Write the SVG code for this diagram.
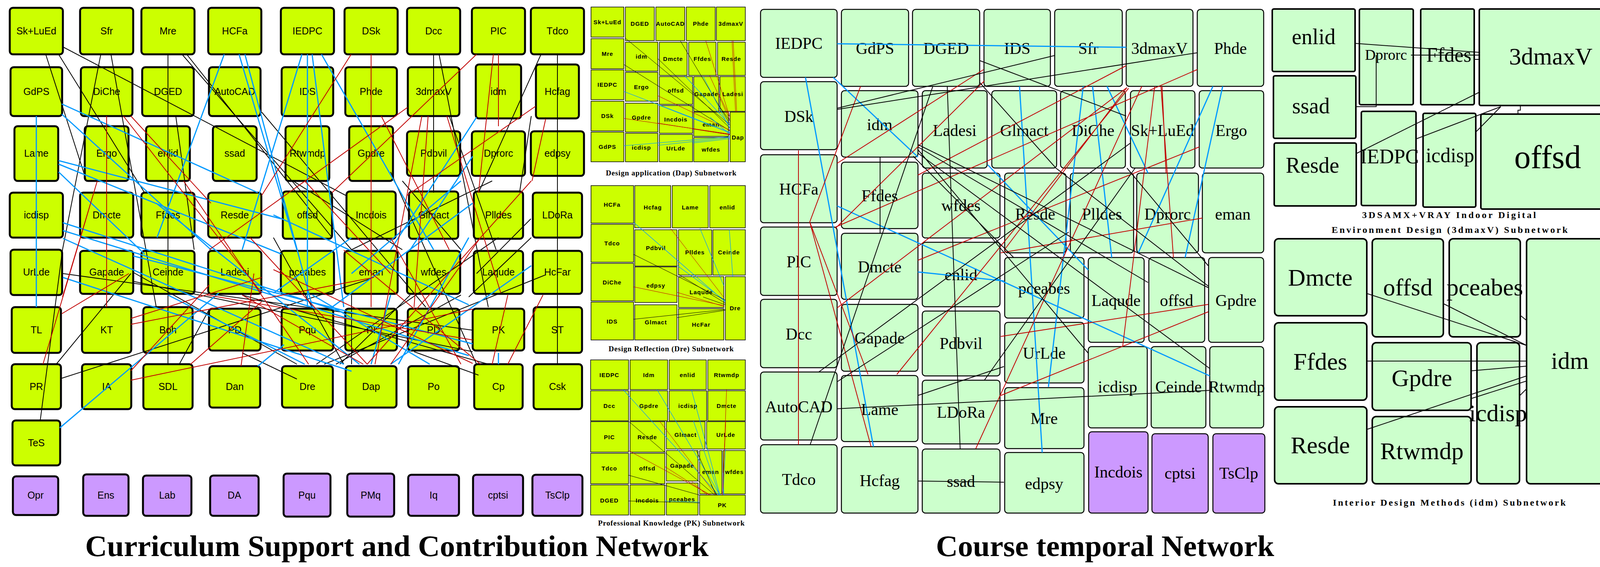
<svg xmlns="http://www.w3.org/2000/svg" width="4152" height="1451" viewBox="0 0 4152 1451">
<style>
.ln rect{fill:#ccff00;stroke:#000;stroke-width:5}
.lp rect{fill:#cc99ff;stroke:#000;stroke-width:5}
.ln text,.lp text{font-family:"Liberation Sans",Arial,sans-serif;font-size:25px;text-anchor:middle;fill:#000}
.sn rect{fill:#ccff00;stroke:#000;stroke-width:1.5}
.sn text{font-family:"Liberation Sans",Arial,sans-serif;font-weight:bold;font-size:15px;letter-spacing:1px;text-anchor:middle}
.tn rect{fill:#ccffcc;stroke:#000;stroke-width:2.5}
.tp rect{fill:#cc99ff;stroke:#000;stroke-width:2.5}
.tn text,.tp text{font-family:"Liberation Serif","Times New Roman",serif;font-size:42px;text-anchor:middle}
.rn rect{fill:#ccffcc;stroke:#000;stroke-width:4}
.rn text{font-family:"Liberation Serif","Times New Roman",serif;text-anchor:middle}
.ttl{font-family:"Liberation Serif","Times New Roman",serif;font-weight:bold;fill:#000}
.k{stroke:#000;stroke-width:2;fill:none}
.b{stroke:#0099ff;stroke-width:3;fill:none}
.r{stroke:#c00000;stroke-width:2;fill:none}
.kt{stroke:#000;stroke-width:1;fill:none}
.bt{stroke:#0099ff;stroke-width:1.2;fill:none}
.rt{stroke:#c00000;stroke-width:1;fill:none}
</style>
<rect width="4152" height="1451" fill="#fff"/>

<!-- LEFT NETWORK NODES -->
<g class="ln">
<g id="L-SkLuEd"><rect x="25" y="20" width="136" height="119" rx="8"/><text x="93" y="88">Sk+LuEd</text></g>
<g id="L-Sfr"><rect x="205" y="20" width="136" height="119" rx="8"/><text x="273" y="88">Sfr</text></g>
<g id="L-Mre"><rect x="362" y="20" width="136" height="119" rx="8"/><text x="430" y="88">Mre</text></g>
<g id="L-HCFa"><rect x="533" y="20" width="136" height="119" rx="8"/><text x="601" y="88">HCFa</text></g>
<g id="L-IEDPC"><rect x="719" y="20" width="136" height="119" rx="8"/><text x="787" y="88">IEDPC</text></g>
<g id="L-DSk"><rect x="882" y="20" width="136" height="119" rx="8"/><text x="950" y="88">DSk</text></g>
<g id="L-Dcc"><rect x="1042" y="20" width="136" height="119" rx="8"/><text x="1110" y="88">Dcc</text></g>
<g id="L-PIC"><rect x="1208" y="20" width="136" height="119" rx="8"/><text x="1276" y="88">PIC</text></g>
<g id="L-Tdco"><rect x="1359" y="20" width="136" height="119" rx="8"/><text x="1427" y="88">Tdco</text></g>

<g id="L-GdPS"><rect x="27" y="172" width="132" height="125" rx="8"/><text x="93" y="243">GdPS</text></g>
<g id="L-DiChe"><rect x="207" y="172" width="132" height="125" rx="8"/><text x="273" y="243">DiChe</text></g>
<g id="L-DGED"><rect x="364" y="172" width="132" height="125" rx="8"/><text x="430" y="243">DGED</text></g>
<g id="L-AutoCAD"><rect x="535" y="172" width="132" height="125" rx="8"/><text x="601" y="243">AutoCAD</text></g>
<g id="L-IDS"><rect x="721" y="172" width="132" height="125" rx="8"/><text x="787" y="243">IDS</text></g>
<g id="L-Phde"><rect x="884" y="172" width="132" height="125" rx="8"/><text x="950" y="243">Phde</text></g>
<g id="L-3dmaxV"><rect x="1044" y="172" width="132" height="125" rx="8"/><text x="1110" y="243">3dmaxV</text></g>
<g id="L-idm"><rect x="1218" y="165" width="116" height="138" rx="8"/><text x="1276" y="243">idm</text></g>
<g id="L-Hcfag"><rect x="1372" y="165" width="110" height="138" rx="8"/><text x="1427" y="243">Hcfag</text></g>

<g id="L-Lame"><rect x="37" y="323" width="112" height="140" rx="8"/><text x="93" y="401">Lame</text></g>
<g id="L-Ergo"><rect x="217" y="323" width="112" height="140" rx="8"/><text x="273" y="401">Ergo</text></g>
<g id="L-enlid"><rect x="374" y="323" width="112" height="140" rx="8"/><text x="430" y="401">enlid</text></g>
<g id="L-ssad"><rect x="545" y="323" width="112" height="140" rx="8"/><text x="601" y="401">ssad</text></g>
<g id="L-Rtwmdp"><rect x="731" y="323" width="112" height="140" rx="8"/><text x="787" y="401">Rtwmdp</text></g>
<g id="L-Gpdre"><rect x="894" y="323" width="112" height="140" rx="8"/><text x="950" y="401">Gpdre</text></g>
<g id="L-Pdbvil"><rect x="1042" y="336" width="136" height="114" rx="8"/><text x="1110" y="401">Pdbvil</text></g>
<g id="L-Dprorc"><rect x="1208" y="336" width="136" height="114" rx="8"/><text x="1276" y="401">Dprorc</text></g>
<g id="L-edpsy"><rect x="1359" y="336" width="136" height="114" rx="8"/><text x="1427" y="401">edpsy</text></g>

<g id="L-icdisp"><rect x="25" y="493" width="136" height="115" rx="8"/><text x="93" y="559">icdisp</text></g>
<g id="L-Dmcte"><rect x="205" y="493" width="136" height="115" rx="8"/><text x="273" y="559">Dmcte</text></g>
<g id="L-Ffdes"><rect x="362" y="493" width="136" height="115" rx="8"/><text x="430" y="559">Ffdes</text></g>
<g id="L-Resde"><rect x="533" y="493" width="136" height="115" rx="8"/><text x="601" y="559">Resde</text></g>
<g id="L-offsd"><rect x="724" y="490" width="126" height="121" rx="8"/><text x="787" y="559">offsd</text></g>
<g id="L-Incdois"><rect x="887" y="490" width="126" height="121" rx="8"/><text x="950" y="559">Incdois</text></g>
<g id="L-Glmact"><rect x="1047" y="490" width="126" height="121" rx="8"/><text x="1110" y="559">Glmact</text></g>
<g id="L-Plldes"><rect x="1213" y="490" width="126" height="121" rx="8"/><text x="1276" y="559">Plldes</text></g>
<g id="L-LDoRa"><rect x="1364" y="493" width="126" height="115" rx="8"/><text x="1427" y="559">LDoRa</text></g>

<g id="L-UrLde"><rect x="27" y="639" width="132" height="116" rx="8"/><text x="93" y="705">UrLde</text></g>
<g id="L-Gapade"><rect x="205" y="642" width="136" height="110" rx="8"/><text x="273" y="705">Gapade</text></g>
<g id="L-Ceinde"><rect x="362" y="642" width="136" height="110" rx="8"/><text x="430" y="705">Ceinde</text></g>
<g id="L-Ladesi"><rect x="533" y="642" width="136" height="110" rx="8"/><text x="601" y="705">Ladesi</text></g>
<g id="L-pceabes"><rect x="719" y="642" width="136" height="110" rx="8"/><text x="787" y="705">pceabes</text></g>
<g id="L-eman"><rect x="882" y="642" width="136" height="110" rx="8"/><text x="950" y="705">eman</text></g>
<g id="L-wfdes"><rect x="1042" y="642" width="136" height="110" rx="8"/><text x="1110" y="705">wfdes</text></g>
<g id="L-Laqude"><rect x="1213" y="642" width="126" height="110" rx="8"/><text x="1276" y="705">Laqude</text></g>
<g id="L-HcFar"><rect x="1364" y="642" width="126" height="110" rx="8"/><text x="1427" y="705">HcFar</text></g>

<g id="L-TL"><rect x="30" y="786" width="126" height="117" rx="8"/><text x="93" y="853">TL</text></g>
<g id="L-KT"><rect x="210" y="786" width="126" height="117" rx="8"/><text x="273" y="853">KT</text></g>
<g id="L-Boh"><rect x="367" y="786" width="126" height="117" rx="8"/><text x="430" y="853">Boh</text></g>
<g id="L-PD1"><rect x="535" y="790" width="132" height="107" rx="8"/><text x="601" y="853">PD</text></g>
<g id="L-Pqu"><rect x="721" y="790" width="132" height="107" rx="8"/><text x="787" y="853">Pqu</text></g>
<g id="L-PI"><rect x="884" y="790" width="132" height="107" rx="8"/><text x="950" y="853">PI</text></g>
<g id="L-PD2"><rect x="1044" y="790" width="132" height="107" rx="8"/><text x="1110" y="853">PD</text></g>
<g id="L-PK"><rect x="1210" y="790" width="132" height="107" rx="8"/><text x="1276" y="853">PK</text></g>
<g id="L-ST"><rect x="1366" y="786" width="124" height="117" rx="8"/><text x="1427" y="853">ST</text></g>

<g id="L-PR"><rect x="30" y="932" width="126" height="115" rx="8"/><text x="93" y="998">PR</text></g>
<g id="L-IA"><rect x="210" y="932" width="126" height="115" rx="8"/><text x="273" y="998">IA</text></g>
<g id="L-SDL"><rect x="367" y="932" width="126" height="115" rx="8"/><text x="430" y="998">SDL</text></g>
<g id="L-Dan"><rect x="536" y="937" width="130" height="106" rx="8"/><text x="601" y="998">Dan</text></g>
<g id="L-Dre"><rect x="722" y="937" width="130" height="106" rx="8"/><text x="787" y="998">Dre</text></g>
<g id="L-Dap"><rect x="885" y="937" width="130" height="106" rx="8"/><text x="950" y="998">Dap</text></g>
<g id="L-Po"><rect x="1045" y="937" width="130" height="106" rx="8"/><text x="1110" y="998">Po</text></g>
<g id="L-Cp"><rect x="1214" y="932" width="124" height="115" rx="8"/><text x="1276" y="998">Cp</text></g>
<g id="L-Csk"><rect x="1366" y="932" width="124" height="115" rx="8"/><text x="1427" y="998">Csk</text></g>

<g id="L-TeS"><rect x="32" y="1076" width="122" height="115" rx="8"/><text x="93" y="1142">TeS</text></g>
</g>
<g class="lp">
<g id="L-Opr"><rect x="33" y="1219" width="116" height="99" rx="8"/><text x="91" y="1276">Opr</text></g>
<g id="L-Ens"><rect x="213" y="1214" width="116" height="106" rx="8"/><text x="271" y="1276">Ens</text></g>
<g id="L-Lab"><rect x="366" y="1217" width="124" height="103" rx="8"/><text x="428" y="1276">Lab</text></g>
<g id="L-DA"><rect x="538" y="1217" width="124" height="103" rx="8"/><text x="600" y="1276">DA</text></g>
<g id="L-Pqu2"><rect x="726" y="1212" width="120" height="110" rx="8"/><text x="786" y="1276">Pqu</text></g>
<g id="L-PMq"><rect x="889" y="1212" width="120" height="110" rx="8"/><text x="949" y="1276">PMq</text></g>
<g id="L-Iq"><rect x="1045" y="1215" width="130" height="105" rx="8"/><text x="1110" y="1276">Iq</text></g>
<g id="L-cptsi"><rect x="1211" y="1215" width="128" height="105" rx="8"/><text x="1275" y="1276">cptsi</text></g>
<g id="L-TsClp"><rect x="1363" y="1215" width="128" height="105" rx="8"/><text x="1427" y="1276">TsClp</text></g>
</g>

<!-- DAP SUBNETWORK -->
<g class="sn">
<g id="A-SkLuEd"><rect x="1513" y="18" width="84" height="77"/><text x="1555" y="62">Sk+LuEd</text></g>
<g id="A-DGED"><rect x="1601" y="18" width="74" height="86"/><text x="1638" y="66">DGED</text></g>
<g id="A-AutoCAD"><rect x="1679" y="18" width="74" height="86"/><text x="1716" y="66">AutoCAD</text></g>
<g id="A-Phde"><rect x="1757" y="18" width="74" height="86"/><text x="1794" y="66">Phde</text></g>
<g id="A-3dmaxV"><rect x="1834" y="18" width="74" height="86"/><text x="1871" y="66">3dmaxV</text></g>
<g id="A-Mre"><rect x="1513" y="99" width="84" height="77"/><text x="1555" y="143">Mre</text></g>
<g id="A-idm"><rect x="1601" y="108" width="83" height="74"/><text x="1642" y="150">idm</text></g>
<g id="A-Dmcte"><rect x="1688" y="108" width="71" height="85"/><text x="1723" y="156">Dmcte</text></g>
<g id="A-Ffdes"><rect x="1763" y="108" width="70" height="85"/><text x="1798" y="156">Ffdes</text></g>
<g id="A-Resde"><rect x="1837" y="108" width="71" height="85"/><text x="1872" y="156">Resde</text></g>
<g id="A-IEDPC"><rect x="1513" y="179" width="84" height="76"/><text x="1555" y="222">IEDPC</text></g>
<g id="A-Ergo"><rect x="1601" y="185" width="83" height="74"/><text x="1642" y="228">Ergo</text></g>
<g id="A-offsd"><rect x="1688" y="196" width="85" height="71"/><text x="1730" y="237">offsd</text></g>
<g id="A-Gapade"><rect x="1776" y="196" width="64" height="89"/><text x="1808" y="246">Gapade</text></g>
<g id="A-Ladesi"><rect x="1843" y="196" width="65" height="89"/><text x="1876" y="246">Ladesi</text></g>
<g id="A-DSk"><rect x="1513" y="259" width="84" height="76"/><text x="1555" y="302">DSk</text></g>
<g id="A-Gpdre"><rect x="1601" y="264" width="83" height="74"/><text x="1642" y="306">Gpdre</text></g>
<g id="A-Incdois"><rect x="1688" y="270" width="85" height="71"/><text x="1730" y="311">Incdois</text></g>
<g id="A-eman"><rect x="1776" y="287" width="89" height="62"/><text x="1820" y="324">eman</text></g>
<g id="A-Dap"><rect x="1869" y="287" width="39" height="127"/><text x="1889" y="357">Dap</text></g>
<g id="A-GdPS"><rect x="1513" y="338" width="84" height="76"/><text x="1555" y="381">GdPS</text></g>
<g id="A-icdisp"><rect x="1601" y="341" width="83" height="73"/><text x="1642" y="383">icdisp</text></g>
<g id="A-UrLde"><rect x="1688" y="344" width="85" height="70"/><text x="1730" y="385">UrLde</text></g>
<g id="A-wfdes"><rect x="1776" y="352" width="89" height="62"/><text x="1820" y="388">wfdes</text></g>
</g>
<text class="ttl" x="1551" y="449" font-size="19" textLength="334" lengthAdjust="spacing">Design application (Dap) Subnetwork</text>

<!-- DRE SUBNETWORK -->
<g class="sn">
<g id="B-HCFa"><rect x="1513" y="475" width="109" height="96"/><text x="1567" y="529">HCFa</text></g>
<g id="B-Hcfag"><rect x="1625" y="475" width="92" height="108"/><text x="1671" y="536">Hcfag</text></g>
<g id="B-Lame"><rect x="1721" y="475" width="92" height="108"/><text x="1767" y="536">Lame</text></g>
<g id="B-enlid"><rect x="1817" y="475" width="91" height="108"/><text x="1862" y="536">enlid</text></g>
<g id="B-Tdco"><rect x="1513" y="574" width="109" height="97"/><text x="1567" y="628">Tdco</text></g>
<g id="B-Pdbvil"><rect x="1625" y="588" width="108" height="93"/><text x="1679" y="640">Pdbvil</text></g>
<g id="B-Plldes"><rect x="1737" y="588" width="85" height="116"/><text x="1779" y="651">Plldes</text></g>
<g id="B-Ceinde"><rect x="1825" y="588" width="83" height="116"/><text x="1866" y="651">Ceinde</text></g>
<g id="B-DiChe"><rect x="1513" y="674" width="109" height="96"/><text x="1567" y="728">DiChe</text></g>
<g id="B-edpsy"><rect x="1625" y="683" width="108" height="91"/><text x="1679" y="736">edpsy</text></g>
<g id="B-Laqude"><rect x="1737" y="708" width="116" height="79"/><text x="1795" y="753">Laqude</text></g>
<g id="B-Dre"><rect x="1857" y="708" width="51" height="162"/><text x="1882" y="794">Dre</text></g>
<g id="B-IDS"><rect x="1513" y="773" width="109" height="97"/><text x="1567" y="828">IDS</text></g>
<g id="B-Glmact"><rect x="1625" y="780" width="108" height="90"/><text x="1679" y="830">Glmact</text></g>
<g id="B-HcFar"><rect x="1737" y="790" width="116" height="80"/><text x="1795" y="836">HcFar</text></g>
</g>
<text class="ttl" x="1558" y="899" font-size="19" textLength="320" lengthAdjust="spacing">Design Reflection (Dre) Subnetwork</text>

<!-- PK SUBNETWORK -->
<g class="sn">
<g id="C-IEDPC"><rect x="1512" y="921" width="97" height="76"/><text x="1560" y="965">IEDPC</text></g>
<g id="C-Idm"><rect x="1613" y="921" width="96" height="76"/><text x="1661" y="965">Idm</text></g>
<g id="C-enlid"><rect x="1713" y="921" width="95" height="76"/><text x="1760" y="965">enlid</text></g>
<g id="C-Rtwmdp"><rect x="1812" y="921" width="96" height="76"/><text x="1860" y="965">Rtwmdp</text></g>
<g id="C-Dcc"><rect x="1512" y="1000" width="97" height="77"/><text x="1560" y="1044">Dcc</text></g>
<g id="C-Gpdre"><rect x="1613" y="1000" width="96" height="77"/><text x="1661" y="1044">Gpdre</text></g>
<g id="C-icdisp"><rect x="1713" y="1000" width="96" height="77"/><text x="1761" y="1044">icdisp</text></g>
<g id="C-Dmcte"><rect x="1812" y="1000" width="96" height="77"/><text x="1860" y="1044">Dmcte</text></g>
<g id="C-PIC"><rect x="1512" y="1079" width="97" height="78"/><text x="1560" y="1124">PIC</text></g>
<g id="C-Resde"><rect x="1613" y="1079" width="89" height="78"/><text x="1657" y="1124">Resde</text></g>
<g id="C-Glmact"><rect x="1706" y="1079" width="99" height="70"/><text x="1755" y="1118">Glmact</text></g>
<g id="C-UrLde"><rect x="1809" y="1079" width="99" height="70"/><text x="1858" y="1118">UrLde</text></g>
<g id="C-Tdco"><rect x="1512" y="1160" width="97" height="78"/><text x="1560" y="1204">Tdco</text></g>
<g id="C-offsd"><rect x="1613" y="1160" width="89" height="78"/><text x="1657" y="1204">offsd</text></g>
<g id="C-Gapade"><rect x="1706" y="1153" width="81" height="78"/><text x="1746" y="1197">Gapade</text></g>
<g id="C-eman"><rect x="1791" y="1153" width="57" height="111"/><text x="1819" y="1213">eman</text></g>
<g id="C-wfdes"><rect x="1851" y="1153" width="57" height="111"/><text x="1880" y="1213">wfdes</text></g>
<g id="C-DGED"><rect x="1512" y="1241" width="97" height="77"/><text x="1560" y="1286">DGED</text></g>
<g id="C-Incdois"><rect x="1613" y="1241" width="89" height="77"/><text x="1657" y="1286">Incdois</text></g>
<g id="C-pceabes"><rect x="1706" y="1236" width="81" height="82"/><text x="1746" y="1283">pceabes</text></g>
<g id="C-PK"><rect x="1791" y="1267" width="117" height="51"/><text x="1849" y="1298">PK</text></g>
</g>
<text class="ttl" x="1531" y="1345" font-size="19" textLength="375" lengthAdjust="spacing">Professional Knowledge (PK) Subnetwork</text>

<!-- COURSE TEMPORAL NETWORK -->
<g class="tn">
<g id="T-IEDPC"><rect x="1947" y="24" width="196" height="174" rx="8"/><text x="2045" y="125">IEDPC</text></g>
<g id="T-DSk"><rect x="1947" y="209" width="196" height="174" rx="8"/><text x="2045" y="312">DSk</text></g>
<g id="T-HCFa"><rect x="1947" y="396" width="196" height="174" rx="8"/><text x="2045" y="498">HCFa</text></g>
<g id="T-PlC"><rect x="1947" y="581" width="196" height="175" rx="8"/><text x="2045" y="684">PlC</text></g>
<g id="T-Dcc"><rect x="1947" y="766" width="196" height="175" rx="8"/><text x="2045" y="869">Dcc</text></g>
<g id="T-AutoCAD"><rect x="1947" y="952" width="196" height="174" rx="8"/><text x="2045" y="1055">AutoCAD</text></g>
<g id="T-Tdco"><rect x="1947" y="1138" width="196" height="175" rx="8"/><text x="2045" y="1241">Tdco</text></g>
<g id="T-GdPS"><rect x="2154" y="24" width="172" height="197" rx="8"/><text x="2240" y="138">GdPS</text></g>
<g id="T-idm"><rect x="2154" y="232" width="196" height="170" rx="8"/><text x="2252" y="333">idm</text></g>
<g id="T-Ffdes"><rect x="2154" y="415" width="196" height="170" rx="8"/><text x="2252" y="515">Ffdes</text></g>
<g id="T-Dmcte"><rect x="2154" y="597" width="196" height="169" rx="8"/><text x="2252" y="697">Dmcte</text></g>
<g id="T-Gapade"><rect x="2154" y="779" width="196" height="171" rx="8"/><text x="2252" y="879">Gapade</text></g>
<g id="T-Lame"><rect x="2154" y="961" width="196" height="169" rx="8"/><text x="2252" y="1062">Lame</text></g>
<g id="T-Hcfag"><rect x="2154" y="1143" width="196" height="170" rx="8"/><text x="2252" y="1244">Hcfag</text></g>
<g id="T-DGED"><rect x="2336" y="24" width="172" height="197" rx="8"/><text x="2422" y="138">DGED</text></g>
<g id="T-Ladesi"><rect x="2361" y="232" width="166" height="198" rx="8"/><text x="2444" y="348">Ladesi</text></g>
<g id="T-wfdes"><rect x="2361" y="443" width="199" height="166" rx="8"/><text x="2460" y="540">wfdes</text></g>
<g id="T-enlid"><rect x="2361" y="620" width="199" height="165" rx="8"/><text x="2460" y="717">enlid</text></g>
<g id="T-Pdbvil"><rect x="2361" y="796" width="199" height="166" rx="8"/><text x="2460" y="893">Pdbvil</text></g>
<g id="T-LDoRa"><rect x="2361" y="973" width="199" height="163" rx="8"/><text x="2460" y="1069">LDoRa</text></g>
<g id="T-ssad"><rect x="2361" y="1149" width="199" height="164" rx="8"/><text x="2460" y="1246">ssad</text></g>
<g id="T-IDS"><rect x="2519" y="24" width="170" height="197" rx="8"/><text x="2604" y="138">IDS</text></g>
<g id="T-Glmact"><rect x="2539" y="232" width="166" height="198" rx="8"/><text x="2622" y="348">Glmact</text></g>
<g id="T-Sfr"><rect x="2700" y="24" width="173" height="197" rx="8"/><text x="2786" y="138">Sfr</text></g>
<g id="T-DiChe"><rect x="2715" y="232" width="166" height="198" rx="8"/><text x="2798" y="348">DiChe</text></g>
<g id="T-3dmaxV"><rect x="2883" y="24" width="171" height="197" rx="8"/><text x="2968" y="138">3dmaxV</text></g>
<g id="T-SkLuEd"><rect x="2894" y="232" width="165" height="198" rx="8"/><text x="2976" y="348">Sk+LuEd</text></g>
<g id="T-Phde"><rect x="3065" y="24" width="170" height="197" rx="8"/><text x="3150" y="138">Phde</text></g>
<g id="T-Ergo"><rect x="3070" y="232" width="165" height="198" rx="8"/><text x="3152" y="348">Ergo</text></g>
<g id="T-Resde"><rect x="2572" y="443" width="157" height="204" rx="8"/><text x="2650" y="562">Resde</text></g>
<g id="T-Plldes"><rect x="2740" y="443" width="162" height="204" rx="8"/><text x="2821" y="562">Plldes</text></g>
<g id="T-Dprorc"><rect x="2910" y="443" width="158" height="204" rx="8"/><text x="2989" y="562">Dprorc</text></g>
<g id="T-eman"><rect x="3078" y="443" width="157" height="204" rx="8"/><text x="3156" y="562">eman</text></g>
<g id="T-pceabes"><rect x="2572" y="659" width="203" height="155" rx="8"/><text x="2673" y="752">pceabes</text></g>
<g id="T-UrLde"><rect x="2572" y="825" width="203" height="155" rx="8"/><text x="2673" y="918">UrLde</text></g>
<g id="T-Mre"><rect x="2572" y="992" width="203" height="156" rx="8"/><text x="2673" y="1085">Mre</text></g>
<g id="T-edpsy"><rect x="2572" y="1158" width="203" height="155" rx="8"/><text x="2673" y="1252">edpsy</text></g>
<g id="T-Laqude"><rect x="2786" y="659" width="143" height="217" rx="8"/><text x="2857" y="783">Laqude</text></g>
<g id="T-offsd"><rect x="2941" y="659" width="143" height="217" rx="8"/><text x="3012" y="783">offsd</text></g>
<g id="T-Gpdre"><rect x="3094" y="659" width="141" height="217" rx="8"/><text x="3164" y="783">Gpdre</text></g>
<g id="T-icdisp"><rect x="2786" y="887" width="151" height="208" rx="8"/><text x="2861" y="1004">icdisp</text></g>
<g id="T-Ceinde"><rect x="2947" y="887" width="140" height="208" rx="8"/><text x="3017" y="1004">Ceinde</text></g>
<g id="T-Rtwmdp"><rect x="3097" y="887" width="138" height="208" rx="8"/><text x="3166" y="1004">Rtwmdp</text></g>
</g>
<g class="tp">
<g id="T-Incdois"><rect x="2787" y="1105" width="152" height="208" rx="8"/><text x="2863" y="1222">Incdois</text></g>
<g id="T-cptsi"><rect x="2949" y="1110" width="144" height="203" rx="8"/><text x="3021" y="1225">cptsi</text></g>
<g id="T-TsClp"><rect x="3105" y="1110" width="133" height="203" rx="8"/><text x="3171" y="1225">TsClp</text></g>
</g>

<!-- 3dmaxV SUBNETWORK -->
<g class="rn">
<g id="V-enlid"><rect x="3257" y="23" width="212" height="160" rx="4"/><text x="3363" y="113" font-size="56">enlid</text></g>
<g id="V-ssad"><rect x="3260" y="194" width="211" height="160" rx="4"/><text x="3356" y="290" font-size="56">ssad</text></g>
<g id="V-Resde"><rect x="3262" y="366" width="210" height="161" rx="4"/><text x="3360" y="442" font-size="56">Resde</text></g>
<g id="V-Dprorc"><rect x="3480" y="23" width="138" height="245" rx="4"/><text x="3548" y="153" font-size="38">Dprorc</text></g>
<g id="V-Ffdes"><rect x="3637" y="23" width="137" height="245" rx="4"/><text x="3709" y="158" font-size="52">Ffdes</text></g>
<g id="V-3dmaxV"><rect x="3787" y="23" width="346" height="247" rx="4"/><text x="3970" y="165" font-size="62">3dmaxV</text></g>
<g id="V-IEDPC"><rect x="3485" y="285" width="140" height="241" rx="4"/><text x="3557" y="418" font-size="52">IEDPC</text></g>
<g id="V-icdisp"><rect x="3643" y="290" width="135" height="240" rx="4"/><text x="3712" y="415" font-size="52">icdisp</text></g>
<g id="V-offsd"><rect x="3791" y="292" width="342" height="243" rx="4"/><text x="3962" y="430" font-size="84">offsd</text></g>
</g>
<text class="ttl" x="3487" y="558" font-size="24" textLength="445" lengthAdjust="spacing">3DSAMX+VRAY Indoor Digital</text>
<text class="ttl" x="3409" y="596" font-size="24" textLength="604" lengthAdjust="spacing">Environment Design (3dmaxV) Subnetwork</text>

<!-- idm SUBNETWORK -->
<g class="rn">
<g id="I-Dmcte"><rect x="3263" y="611" width="236" height="197" rx="10"/><text x="3380" y="731" font-size="62">Dmcte</text></g>
<g id="I-Ffdes"><rect x="3263" y="826" width="236" height="198" rx="10"/><text x="3380" y="946" font-size="62">Ffdes</text></g>
<g id="I-Resde"><rect x="3263" y="1041" width="236" height="197" rx="10"/><text x="3380" y="1160" font-size="62">Resde</text></g>
<g id="I-offsd"><rect x="3513" y="611" width="182" height="251" rx="10"/><text x="3604" y="756" font-size="62">offsd</text></g>
<g id="I-pceabes"><rect x="3710" y="611" width="182" height="251" rx="10"/><text x="3801" y="756" font-size="62">pceabes</text></g>
<g id="I-Gpdre"><rect x="3513" y="877" width="253" height="173" rx="10"/><text x="3640" y="988" font-size="62">Gpdre</text></g>
<g id="I-Rtwmdp"><rect x="3513" y="1066" width="253" height="172" rx="10"/><text x="3640" y="1175" font-size="62">Rtwmdp</text></g>
<g id="I-icdisp"><rect x="3781" y="877" width="109" height="361" rx="10"/><text x="3835" y="1078" font-size="62">icdisp</text></g>
<g id="I-idm"><rect x="3908" y="611" width="222" height="627" rx="10"/><text x="4019" y="944" font-size="62">idm</text></g>
</g>
<text class="ttl" x="3412" y="1294" font-size="24" textLength="596" lengthAdjust="spacing">Interior Design Methods (idm) Subnetwork</text>

<!-- TITLES -->
<text class="ttl" x="218" y="1423" font-size="76" textLength="1596" lengthAdjust="spacingAndGlyphs">Curriculum Support and Contribution Network</text>
<text class="ttl" x="2396" y="1423" font-size="76" textLength="866" lengthAdjust="spacingAndGlyphs">Course temporal Network</text>

<!-- CONNECTORS -->
<g id="connectors">
<g class="k">
<path d="M161 120L885 500M117 139L220 459M150 139L370 493M430 139L430 932M1110 139L1110 493M1427 139L1427 932M1385 139L1225 493M1124 139L1250 786M258 139L160 639M284 139L400 786M466 139L900 639M478 139L850 608M450 297L497 639M670 287L1090 786M103 1076L160 639M144 932L335 700M158 968L947 714M459 932L536 791M341 697L760 932M1276 608L810 932M161 700L1210 845M341 720L1210 900M620 755L1250 932M1000 440L1220 932M1150 297L1270 639M1360 608L1200 760M1395 704L830 932M1180 755L860 932M1050 755L870 932M900 755L900 932M700 608L880 932M1360 297L1330 493M1260 463L900 639M1359 560L1220 700M1060 900L1225 960M620 903L760 970M750 463L1030 639M1030 463L1180 639"/>
</g>
<g class="b">
<path d="M158 266L660 493M158 292L540 639M150 411L720 560M150 420L720 650M150 440L370 650M93 297L93 786M574 139L402 608M612 139L760 639M627 139L800 786M773 139L620 639M787 139L787 786M799 139L880 786M823 139L1110 639M153 1095L560 750M660 937L727 882M430 755L780 932M161 570L880 800M161 590L1200 910M161 610L880 932M161 710L900 950M341 655L1210 880M700 550L1200 780M1200 608L1020 932M1210 400L1050 639M1220 300L1000 639M1180 463L900 700M900 608L700 750M1276 903L1276 932M1000 755L950 932M800 755L1100 932M1360 680L1000 932M1210 520L850 786M400 520L920 932"/>
</g>
<g class="r">
<path d="M273 297L273 786M950 139L950 786M1276 139L1276 323M899 139L670 500M1220 139L850 493M1263 139L1225 493M316 297L670 750M335 297L540 520M1043 275L536 639M1096 297L1060 786M1144 297L1282 750M976 297L1150 639M1371 272L1042 500M1397 304L1362 463M249 463L160 760M158 803L330 700M110 932L249 463M335 949L536 729M335 973L1210 791M335 815L670 710M335 830L957 710M488 932L670 772M617 937L650 700M470 463L790 932M620 755L930 932M640 608L940 932M1080 297L960 932M1360 463L940 932M1230 608L1000 932M1300 755L1260 932M1390 755L1300 932M530 755L1210 870M700 690L1210 930M1000 608L1180 932M880 640L1230 932M780 463L1000 700"/>
</g>

<!-- Dap subnetwork edges -->
<path class="kt" d="M1600 97L1869 320M1597 165L1869 335M1684 150L1869 328M1742 105L1867 315M1840 270L1869 310"/>
<path class="bt" d="M1753 194L1868 319M1597 234L1868 338M1684 268L1868 340M1818 300L1869 345M1597 373L1869 350M1684 372L1869 352M1773 366L1869 355M1800 196L1869 330"/>
<path class="rt" d="M1807 105L1867 296M1874 105L1883 287M1877 105L1886 287M1817 194L1868 306M1684 245L1868 333M1597 303L1868 343M1684 315L1868 344M1773 330L1869 345M1840 240L1869 300"/>
<!-- Dre subnetwork edges -->
<path class="bt" d="M1622 569L1857 773M1792 585L1853 731M1867 588L1876 708M1733 679L1857 770"/>
<path class="rt" d="M1717 585L1853 761M1622 734L1853 782M1733 748L1853 784"/>
<path class="kt" d="M1622 651L1857 768M1737 702L1857 776M1622 817L1857 792M1733 813L1857 794M1800 760L1857 780"/>
<!-- PK subnetwork edges -->
<path class="bt" d="M1595 997L1840 1267M1682 997L1843 1267M1770 997L1843 1267M1775 1077L1842 1267M1857 1149L1851 1267M1851 1210L1853 1267M1702 1282L1791 1285"/>
<path class="rt" d="M1860 997L1850 1267M1688 1077L1833 1267M1858 1077L1850 1267M1609 1153L1820 1267M1702 1194L1816 1267M1770 1231L1810 1267"/>
<path class="kt" d="M1608 1077L1830 1267M1783 1153L1833 1267M1609 1216L1791 1267M1609 1282L1791 1287M1820 1240L1835 1267"/>

<!-- Course temporal edges -->
<g class="b">
<path d="M2143 112L2883 121M2133 198L2350 402M2062 198L2236 1143M2143 527L3097 962M2610 221L2668 1158M2773 221L2684 990M2797 221L2846 659M2834 221L2939 443M3105 221L2914 647M3130 221L3034 659M2529 422L2786 691M2350 696L2570 719"/>
</g>
<g class="r">
<path d="M2044 385L2044 1138M2203 221L2073 568L2222 958M2073 568L2230 1143M2143 418L2518 178M2139 584L2520 207M2350 448L2883 168M3065 178L2139 581M2885 224L2570 641M2889 226L2296 958M2923 221L2498 1148M2956 221L2874 887M2972 221L3004 659M2975 221L2985 443M3070 376L2350 666M3078 558L2562 647M3093 779L2562 861M3093 798L2562 1012M2143 788L2885 224"/>
</g>
<g class="k">
<path d="M2143 277L2700 142M2143 280L3065 135M2508 155L2883 297M2508 211L2703 430L3093 732M2388 221L2074 1138M2425 221L2458 1149M2253 402L2253 597M2350 370L3093 736M2350 376L2939 723M2350 383L2786 904M2350 392L3097 943M2338 400L2595 659M2143 1046L3097 999M2350 1231L2570 1234M2143 977L2736 594M2350 1012L2570 938M2520 973L2906 430M2096 952L2894 366M2885 430L3093 680"/>
</g>

<!-- 3dmaxV subnetwork edges -->
<path class="k" stroke-width="3" d="M3469 111L3787 134M3612 141L3787 141M3774 152L3787 152M3471 273L3523 273L3523 141M3472 393L3787 236M3624 356L3842 273M3778 338L3842 273M3886 292L3886 282L3892 282L3892 270"/>
<!-- idm subnetwork edges -->
<path class="k" stroke-width="3" d="M3499 751L3908 884M3695 777L3908 884M3892 807L3908 820M3499 924L3908 924M3766 949L3908 937M3499 1099L3908 962M3890 1013L3908 995M3766 1020L3908 975"/>
</g>
</svg>
